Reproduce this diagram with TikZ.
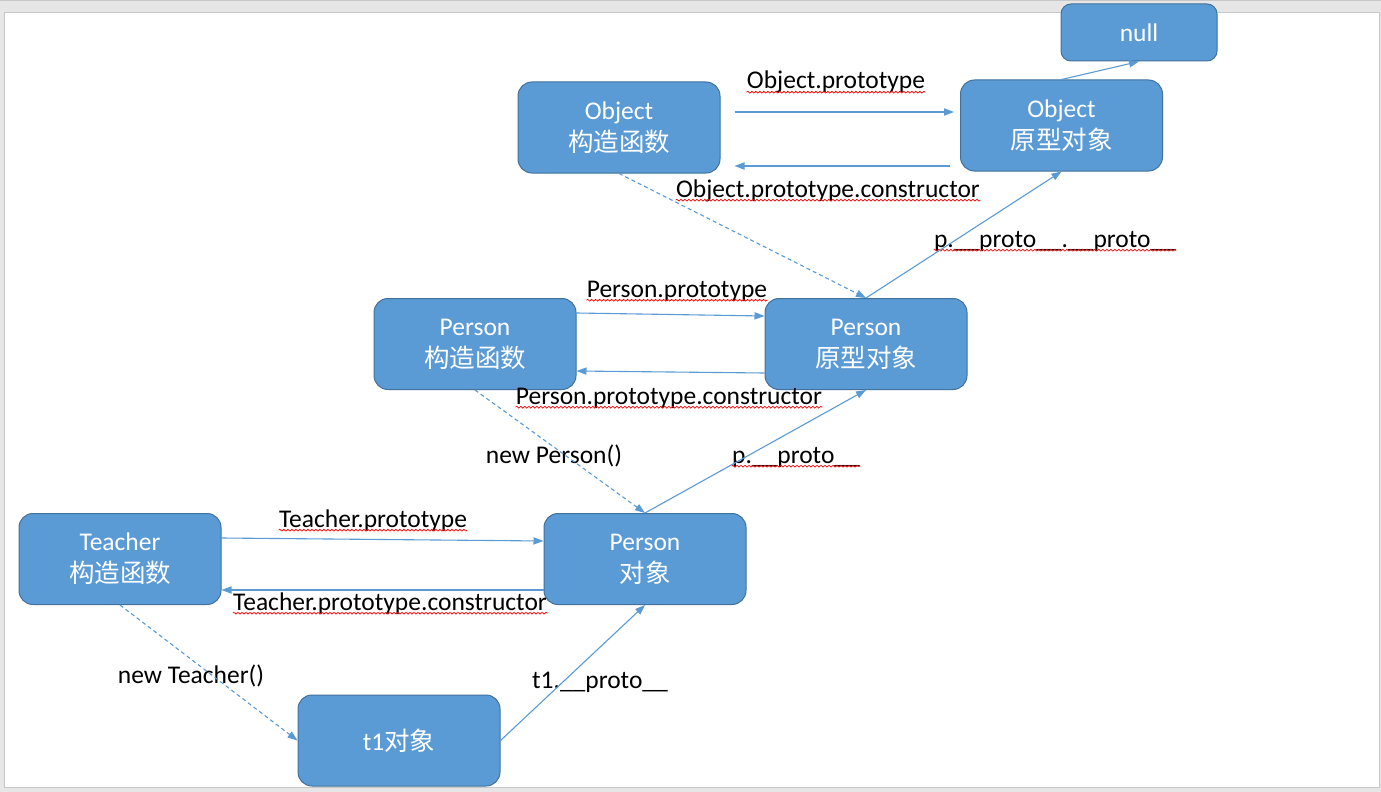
\documentclass[tikz,border=0pt]{standalone}
\usepackage{fontspec}
\setmainfont{Carlito}
\newfontfamily\cjk{Noto Sans CJK SC}
\usetikzlibrary{arrows.meta,calc,decorations.pathmorphing}
\definecolor{boxfill}{HTML}{5B9BD5}
\definecolor{boxline}{HTML}{41719C}
\definecolor{linkblue}{HTML}{5B9BD5}
\definecolor{bggray}{HTML}{E6E6E6}
\definecolor{slideedge}{HTML}{C8C8C8}
\begin{document}
\begin{tikzpicture}[x=0.5pt,y=-0.5pt,
  box/.style={draw=boxline, line width=0.5pt, fill=boxfill, rounded corners=7pt,
    minimum width=101pt, minimum height=45.5pt, inner sep=0pt, align=center,
    text=white, font=\fontsize{12.75}{16}\selectfont},
  lbl/.style={inner sep=0pt, anchor=base, font=\fontsize{12.75}{15}\selectfont, text=black},
  link/.style={draw=linkblue, line width=0.55pt, -{Triangle[length=5pt,width=3.6pt]}},
  dlink/.style={link, dash pattern=on 2pt off 1.5pt},
  squig/.style={draw=red, line width=0.35pt, decorate,
    decoration={snake, amplitude=0.45pt, segment length=2pt}}
]
\useasboundingbox (0,0) rectangle (1381,792);
\fill[bggray] (0,0) rectangle (1381,792);
\draw[slideedge, line width=0.5pt] (0,1) -- (1381,1);
\draw[slideedge, line width=0.5pt, fill=white] (4,13) rectangle (1379,787);

% boxes
\node[box, minimum width=78pt, minimum height=28.5pt, rounded corners=5pt] (null) at (1139,32.5) {null};
\node[box] (objc) at (619,127.5) {Object\\{\cjk 构造函数}};
\node[box] (objp) at (1061.5,125.5) {Object\\{\cjk 原型对象}};
\node[box] (pc) at (475,344) {Person\\{\cjk 构造函数}};
\node[box] (pp) at (866,344) {Person\\{\cjk 原型对象}};
\node[box] (tc) at (120,559) {Teacher\\{\cjk 构造函数}};
\node[box] (po) at (645,559) {Person\\{\cjk 对象}};
\node[box] (t1) at (399,740.5) {t1{\cjk 对象}};

% labels
\node[lbl] (lop) at (836,89) {Object.prototype};
\node[lbl] (lopc) at (828,197) {Object.prototype.constructor};
\node[lbl] (lpp2) at (1055,247) {p.\_\_proto\_\_.\_\_proto\_\_};
\node[lbl] (lpp) at (677,297) {Person.prototype};
\node[lbl] (lppc) at (669,404) {Person.prototype.constructor};
\node[lbl] (lnp) at (554,463) {new Person()};
\node[lbl] (lpproto) at (796,463) {p.\_\_proto\_\_};
\node[lbl] (ltp) at (373,527) {Teacher.prototype};
\node[lbl] (ltpc) at (390,610) {Teacher.prototype.constructor};
\node[lbl] (lnt) at (191,683) {new Teacher()};
\node[lbl] (lt1) at (600,688) {t1.\_\_proto\_\_};

% spelling squiggles
\foreach \n in {lop,lopc,lpp2,lpp,lppc,lpproto,ltp,ltpc}{
  \draw[squig] ([yshift=-1.6pt]\n.base west) -- ([yshift=-1.6pt]\n.base east);
}

% connectors
\draw[link] ($(objc.east)+(14,-15.5)$) -- ($(objp.west)+(-6,-13.5)$);
\draw[link] ($(objp.west)+(-10,40.5)$) -- ($(objc.east)+(14,38.5)$);
\draw[link] (objp.north) -- (null.south);
\draw[dlink] (objc.south) -- (pp.north);
\draw[link] (pp.north) -- (objp.south);
\draw[link] ($(pc.east)+(0,-31)$) -- ($(pp.west)+(0,-28)$);
\draw[link] ($(pp.west)+(0,29)$) -- ($(pc.east)+(0,27)$);
\draw[dlink] (pc.south) -- (po.north);
\draw[link] (po.north) -- (pp.south);
\draw[link] ($(tc.east)+(0,-21)$) -- ($(po.west)+(0,-18)$);
\draw[link] ($(po.west)+(0,31)$) -- ($(tc.east)+(0,31)$);
\draw[dlink] (tc.south) -- (t1.west);
\draw[link] (t1.east) -- (po.south);
\end{tikzpicture}
\end{document}
